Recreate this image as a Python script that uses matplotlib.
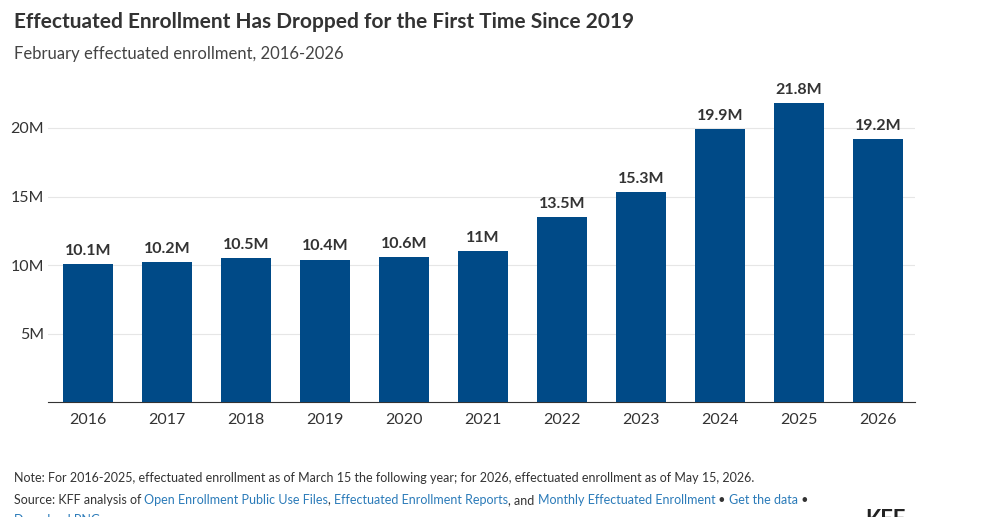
import matplotlib
matplotlib.use("Agg")
import matplotlib.pyplot as plt

years = ["2016","2017","2018","2019","2020","2021","2022","2023","2024","2025","2026"]
values = [10.1,10.2,10.5,10.4,10.6,11.0,13.5,15.3,19.9,21.8,19.2]
labels = ["10.1M","10.2M","10.5M","10.4M","10.6M","11M","13.5M","15.3M","19.9M","21.8M","19.2M"]
yticks = [5,10,15,20]
ytick_labels = ["5M","10M","15M","20M"]

plt.rcParams['font.family'] = ['Lato', 'DejaVu Sans']
fig = plt.figure(figsize=(9.85,5.17), dpi=100)
ax = fig.add_axes([0.049,0.222,0.88,0.61])
x = range(len(years))
ax.bar(x, values, width=0.63, color="#004a87", zorder=3)
for i,(v,l) in enumerate(zip(values,labels)):
    ax.text(i, v+0.45, l, ha="center", va="bottom", fontsize=11.5, fontweight="bold", color="#333333")
ax.set_xlim(-0.5,10.47)
ax.set_ylim(0,23)
ax.set_xticks(list(x))
ax.set_xticklabels(years, fontsize=11.5, color="#333333")
ax.set_yticks(yticks)
ax.set_yticklabels(ytick_labels, fontsize=11.5, color="#333333")
ax.tick_params(axis="both", length=0)
ax.tick_params(axis="x", pad=8)
ax.tick_params(axis="y", pad=3)
ax.grid(axis="y", color="#e6e6e6", linewidth=0.8, zorder=0)
for s in ["top","right","left"]:
    ax.spines[s].set_visible(False)
ax.spines["bottom"].set_color("#333333")

fig.text(0.014, 0.958, "Effectuated Enrollment Has Dropped for the First Time Since 2019", fontsize=15, fontweight="bold", color="#333333", va="center")
fig.text(0.014, 0.895, "February effectuated enrollment, 2016-2026", fontsize=12, color="#444444", va="center")
fig.text(0.014, 0.075, "Note: For 2016-2025, effectuated enrollment as of March 15 the following year; for 2026, effectuated enrollment as of May 15, 2026.", fontsize=9, color="#333333", va="center")
y0 = 0.033
parts = [("Source: KFF analysis of ", "#333333"), ("Open Enrollment Public Use Files", "#2b7bb9"), (", ", "#333333"),
         ("Effectuated Enrollment Reports", "#2b7bb9"), (", and ", "#333333"), ("Monthly Effectuated Enrollment", "#2b7bb9"),
         (" \u2022 ", "#333333"), ("Get the data", "#2b7bb9"), (" \u2022", "#333333")]
fig.canvas.draw()
r = fig.canvas.get_renderer()
xpos = 0.014
for t, c in parts:
    tt = fig.text(xpos, y0, t, fontsize=9, color=c, va="center")
    bb = tt.get_window_extent(renderer=r)
    xpos += bb.width / fig.bbox.width
fig.text(0.014, -0.005, "Download PNG", fontsize=9, color="#2b7bb9", va="center")
fig.text(0.878, -0.005, "KFF", fontsize=16, fontweight="bold", color="#222222", va="center")
fig.savefig("out.png", dpi=100)
